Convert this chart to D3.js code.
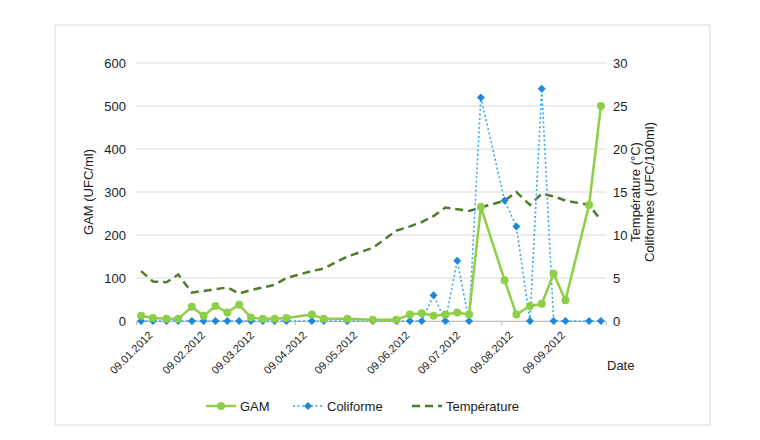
<!DOCTYPE html>
<html><head><meta charset="utf-8">
<script src="https://cdn.jsdelivr.net/npm/d3@7"></script>
<style>body{margin:0;background:#fff}text{font-family:"Liberation Sans",Arial,sans-serif;fill:#222}</style>
</head><body><svg width="760" height="440"></svg>
<script>
// days since 09.01.2012
var days = [0,7,15,22,30,37,44,51,58,65,72,79,86,101,108,122,137,151,159,166,173,180,187,194,201,215,222,230,237,244,251,265,272]
var gam = [12,7,5,5,33,12,35,20,38,8,5,5,7,15,5,5,3,3,15,18,12,15,20,15,265,95,15,35,40,110,48,270,500]
var coli = [0,0,0,0,0,0,0,0,0,0,0,0,0,0,0,0,0,0,0,0,60,0,140,0,520,280,220,0,540,0,0,0,0]
var temp = [5.8,4.6,4.5,5.4,3.3,3.5,3.7,3.9,3.2,3.6,3.9,4.2,5.0,5.8,6.1,7.5,8.5,10.5,11.0,11.5,12.2,13.2,13.0,12.8,13.2,14.0,15.0,13.5,14.8,14.5,14.0,13.5,11.7]
var tickLabels = ["09.01.2012","09.02.2012","09.03.2012","09.04.2012","09.05.2012","09.06.2012","09.07.2012","09.08.2012","09.09.2012"]

var svg = d3.select("svg")
svg.append("rect").attr("x",55).attr("y",25).attr("width",655).attr("height",400)
  .attr("fill","none").attr("stroke","#d9d9d9")

var start = new Date(2012,0,9)
var dates = days.map(function(d){ return d3.timeDay.offset(start,d) })
var x = d3.scaleTime().domain([new Date(2012,0,6), new Date(2012,9,10)]).range([136,606])
var y = d3.scaleLinear().domain([0,600]).range([321,63])
var y2 = d3.scaleLinear().domain([0,30]).range([321,63])
var diamond = "M0,-4L4,0L0,4L-4,0Z"

// grid
svg.append("g").selectAll("line").data(y.ticks(6)).enter().append("line")
  .attr("x1",136).attr("x2",606).attr("y1",y).attr("y2",y)
  .attr("stroke","#d9d9d9")

var ly = svg.append("g").attr("transform","translate(130,0)")
  .call(d3.axisLeft(y).ticks(6).tickSize(0).tickPadding(4))
ly.select(".domain").remove()
ly.selectAll("text").style("font-size","13px")

var ry = svg.append("g").attr("transform","translate(610,0)")
  .call(d3.axisRight(y2).ticks(6).tickSize(0).tickPadding(3))
ry.select(".domain").remove()
ry.selectAll("text").style("font-size","13px")

var tickDates = tickLabels.map(function(s){ var p=s.split("."); return new Date(+p[2],+p[1]-1,+p[0]) })
var xa = svg.append("g").attr("transform","translate(0,321)")
  .call(d3.axisBottom(x).tickValues(tickDates).tickSize(4)
    .tickFormat(function(d,i){ return tickLabels[i] }))
xa.select(".domain").attr("stroke","#bfbfbf")
xa.selectAll("line").attr("stroke","#bfbfbf")
xa.selectAll("text").style("font-size","11px").attr("text-anchor","end")
  .attr("transform","translate(3,6) rotate(-45)").attr("dy","0.5em")

svg.append("text").attr("transform","translate(93,192) rotate(-90)")
  .attr("text-anchor","middle").style("font-size","13px").text("GAM (UFC/ml)")
svg.append("text").attr("transform","translate(640,192) rotate(-90)")
  .attr("text-anchor","middle").style("font-size","13px").text("Température (°C)")
svg.append("text").attr("transform","translate(654,192) rotate(-90)")
  .attr("text-anchor","middle").style("font-size","13px").text("Coliformes (UFC/100ml)")
svg.append("text").attr("x",607).attr("y",370).style("font-size","13px").text("Date")

var idx = d3.range(days.length)
// temperature
svg.append("path").datum(idx)
  .attr("d",d3.line().x(function(i){return x(dates[i])}).y(function(i){return y2(temp[i])}))
  .attr("fill","none").attr("stroke","#4f7d2b").attr("stroke-width",2.5).attr("stroke-dasharray","8,5")
// coliforme
svg.append("path").datum(idx)
  .attr("d",d3.line().x(function(i){return x(dates[i])}).y(function(i){return y(coli[i])}))
  .attr("fill","none").attr("stroke","#39a9ec").attr("stroke-width",1.6).attr("stroke-dasharray","2,2.5")
svg.append("g").selectAll("path").data(idx).enter().append("path")
  .attr("d",diamond)
  .attr("transform",function(i){return "translate("+x(dates[i])+","+y(coli[i])+")"})
  .attr("fill","#1f86d9")
// gam
svg.append("path").datum(idx)
  .attr("d",d3.line().x(function(i){return x(dates[i])}).y(function(i){return y(gam[i])}))
  .attr("fill","none").attr("stroke","#8fce47").attr("stroke-width",2.5)
svg.append("g").selectAll("circle").data(idx).enter().append("circle")
  .attr("cx",function(i){return x(dates[i])}).attr("cy",function(i){return y(gam[i])})
  .attr("r",4).attr("fill","#8fce47")

// legend
var lg = svg.append("g").attr("transform","translate(0,406)")
lg.append("line").attr("x1",206).attr("x2",236).attr("stroke","#8fce47").attr("stroke-width",2.5)
lg.append("circle").attr("cx",221).attr("r",4).attr("fill","#8fce47")
lg.append("text").attr("x",240).attr("dy","0.35em").style("font-size","13px").text("GAM")
lg.append("line").attr("x1",293).attr("x2",323).attr("stroke","#39a9ec").attr("stroke-width",1.6).attr("stroke-dasharray","2,2.5")
lg.append("path").attr("d",diamond).attr("transform","translate(308,0)").attr("fill","#1f86d9")
lg.append("text").attr("x",327).attr("dy","0.35em").style("font-size","13px").text("Coliforme")
lg.append("line").attr("x1",412).attr("x2",442).attr("stroke","#4f7d2b").attr("stroke-width",2.5).attr("stroke-dasharray","8,5")
lg.append("text").attr("x",446).attr("dy","0.35em").style("font-size","13px").text("Température")
</script></body></html>
